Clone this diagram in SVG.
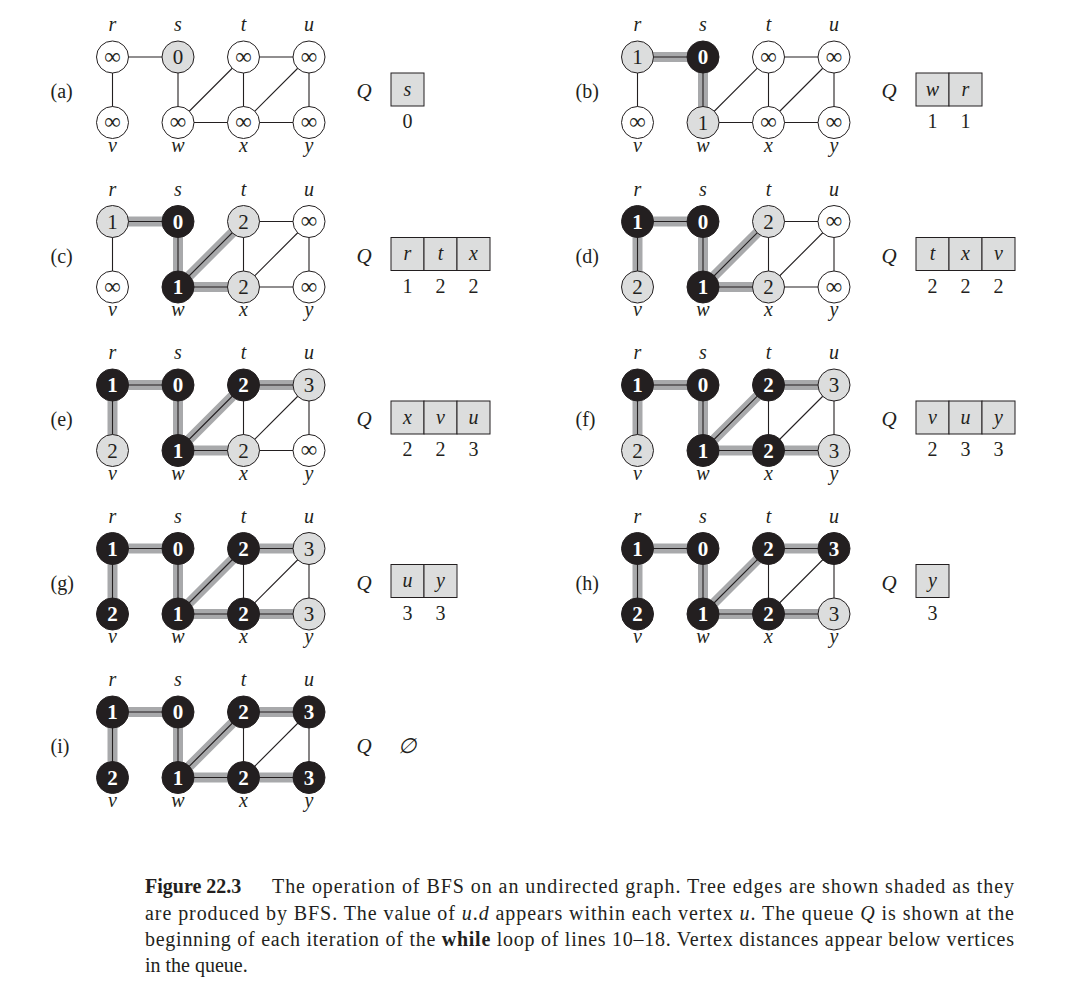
<svg xmlns="http://www.w3.org/2000/svg" width="1086" height="994" viewBox="0 0 1086 994">
<style>
text{font-family:"Liberation Serif","Times New Roman",serif;fill:#231f20}
.e{stroke:#231f20;stroke-width:1.1}
.t{stroke:#a8a9ab;stroke-width:10}
.cw{fill:#fff;stroke:#231f20;stroke-width:1}
.cg{fill:#dcdddd;stroke:#231f20;stroke-width:1}
.cb{fill:#231f20;stroke:#231f20;stroke-width:1}
.lb{font-style:italic;font-size:20px;text-anchor:middle}
.n{font-size:21px;text-anchor:middle}
.nb{font-size:21px;font-weight:bold;text-anchor:middle;fill:#fff}
.inf{font-size:23px;text-anchor:middle}
.pl{font-size:20px}
.q{font-style:italic;font-size:21px}
.qc{fill:#dcdddd;stroke:#231f20;stroke-width:1}
.ql{font-style:italic;font-size:20px;text-anchor:middle}
.qn{font-size:20px;text-anchor:middle}
.cap{font-size:20px}
</style>
<rect width="1086" height="994" fill="#fff"/>

<!-- (a) -->
<g id="panel-a" transform="translate(112.5,57)">
<text class="pl" x="-62" y="41">(a)</text>
<g id="a-edges">
<line class="e" x1="0" y1="0" x2="65.5" y2="0"/><line class="e" x1="0" y1="0" x2="0" y2="65.5"/><line class="e" x1="65.5" y1="0" x2="65.5" y2="65.5"/><line class="e" x1="65.5" y1="65.5" x2="131" y2="0"/><line class="e" x1="65.5" y1="65.5" x2="131" y2="65.5"/><line class="e" x1="131" y1="0" x2="131" y2="65.5"/><line class="e" x1="131" y1="0" x2="196.5" y2="0"/><line class="e" x1="131" y1="65.5" x2="196.5" y2="0"/><line class="e" x1="131" y1="65.5" x2="196.5" y2="65.5"/><line class="e" x1="196.5" y1="0" x2="196.5" y2="65.5"/>
</g>
<g id="a-r"><circle class="cw" cx="0" cy="0" r="16"/><text class="inf" x="0" y="6.5">∞</text><text class="lb" x="0" y="-26">r</text></g>
<g id="a-s"><circle class="cg" cx="65.5" cy="0" r="16"/><text class="n" x="65.5" y="7">0</text><text class="lb" x="65.5" y="-26">s</text></g>
<g id="a-t"><circle class="cw" cx="131" cy="0" r="16"/><text class="inf" x="131" y="6.5">∞</text><text class="lb" x="131" y="-26">t</text></g>
<g id="a-u"><circle class="cw" cx="196.5" cy="0" r="16"/><text class="inf" x="196.5" y="6.5">∞</text><text class="lb" x="196.5" y="-26">u</text></g>
<g id="a-v"><circle class="cw" cx="0" cy="65.5" r="16"/><text class="inf" x="0" y="72">∞</text><text class="lb" x="0" y="94.5">v</text></g>
<g id="a-w"><circle class="cw" cx="65.5" cy="65.5" r="16"/><text class="inf" x="65.5" y="72">∞</text><text class="lb" x="65.5" y="94.5">w</text></g>
<g id="a-x"><circle class="cw" cx="131" cy="65.5" r="16"/><text class="inf" x="131" y="72">∞</text><text class="lb" x="131" y="94.5">x</text></g>
<g id="a-y"><circle class="cw" cx="196.5" cy="65.5" r="16"/><text class="inf" x="196.5" y="72">∞</text><text class="lb" x="196.5" y="94.5">y</text></g>
<g id="a-queue"><text class="q" x="244" y="41">Q</text>
<rect class="qc" x="278.5" y="16" width="33" height="33"/><text class="ql" x="295" y="38.5">s</text>
<text class="qn" x="295" y="71">0</text></g>
</g>

<!-- (b) -->
<g id="panel-b" transform="translate(637.5,57)">
<text class="pl" x="-62" y="41">(b)</text>
<g id="b-edges">
<line class="t" x1="0" y1="0" x2="65.5" y2="0"/><line class="t" x1="65.5" y1="0" x2="65.5" y2="65.5"/>
<line class="e" x1="0" y1="0" x2="65.5" y2="0"/><line class="e" x1="0" y1="0" x2="0" y2="65.5"/><line class="e" x1="65.5" y1="0" x2="65.5" y2="65.5"/><line class="e" x1="65.5" y1="65.5" x2="131" y2="0"/><line class="e" x1="65.5" y1="65.5" x2="131" y2="65.5"/><line class="e" x1="131" y1="0" x2="131" y2="65.5"/><line class="e" x1="131" y1="0" x2="196.5" y2="0"/><line class="e" x1="131" y1="65.5" x2="196.5" y2="0"/><line class="e" x1="131" y1="65.5" x2="196.5" y2="65.5"/><line class="e" x1="196.5" y1="0" x2="196.5" y2="65.5"/>
</g>
<g id="b-r"><circle class="cg" cx="0" cy="0" r="16"/><text class="n" x="0" y="7">1</text><text class="lb" x="0" y="-26">r</text></g>
<g id="b-s"><circle class="cb" cx="65.5" cy="0" r="16"/><text class="nb" x="65.5" y="7">0</text><text class="lb" x="65.5" y="-26">s</text></g>
<g id="b-t"><circle class="cw" cx="131" cy="0" r="16"/><text class="inf" x="131" y="6.5">∞</text><text class="lb" x="131" y="-26">t</text></g>
<g id="b-u"><circle class="cw" cx="196.5" cy="0" r="16"/><text class="inf" x="196.5" y="6.5">∞</text><text class="lb" x="196.5" y="-26">u</text></g>
<g id="b-v"><circle class="cw" cx="0" cy="65.5" r="16"/><text class="inf" x="0" y="72">∞</text><text class="lb" x="0" y="94.5">v</text></g>
<g id="b-w"><circle class="cg" cx="65.5" cy="65.5" r="16"/><text class="n" x="65.5" y="72.5">1</text><text class="lb" x="65.5" y="94.5">w</text></g>
<g id="b-x"><circle class="cw" cx="131" cy="65.5" r="16"/><text class="inf" x="131" y="72">∞</text><text class="lb" x="131" y="94.5">x</text></g>
<g id="b-y"><circle class="cw" cx="196.5" cy="65.5" r="16"/><text class="inf" x="196.5" y="72">∞</text><text class="lb" x="196.5" y="94.5">y</text></g>
<g id="b-queue"><text class="q" x="244" y="41">Q</text>
<rect class="qc" x="278.5" y="16" width="33" height="33"/><text class="ql" x="295" y="38.5">w</text>
<rect class="qc" x="311.5" y="16" width="33" height="33"/><text class="ql" x="328" y="38.5">r</text>
<text class="qn" x="295" y="71">1</text><text class="qn" x="328" y="71">1</text></g>
</g>

<!-- (c) -->
<g id="panel-c" transform="translate(112.5,221.5)">
<text class="pl" x="-62" y="41">(c)</text>
<g id="c-edges">
<line class="t" x1="0" y1="0" x2="65.5" y2="0"/><line class="t" x1="65.5" y1="0" x2="65.5" y2="65.5"/><line class="t" x1="65.5" y1="65.5" x2="131" y2="0"/><line class="t" x1="65.5" y1="65.5" x2="131" y2="65.5"/>
<line class="e" x1="0" y1="0" x2="65.5" y2="0"/><line class="e" x1="0" y1="0" x2="0" y2="65.5"/><line class="e" x1="65.5" y1="0" x2="65.5" y2="65.5"/><line class="e" x1="65.5" y1="65.5" x2="131" y2="0"/><line class="e" x1="65.5" y1="65.5" x2="131" y2="65.5"/><line class="e" x1="131" y1="0" x2="131" y2="65.5"/><line class="e" x1="131" y1="0" x2="196.5" y2="0"/><line class="e" x1="131" y1="65.5" x2="196.5" y2="0"/><line class="e" x1="131" y1="65.5" x2="196.5" y2="65.5"/><line class="e" x1="196.5" y1="0" x2="196.5" y2="65.5"/>
</g>
<g id="c-r"><circle class="cg" cx="0" cy="0" r="16"/><text class="n" x="0" y="7">1</text><text class="lb" x="0" y="-26">r</text></g>
<g id="c-s"><circle class="cb" cx="65.5" cy="0" r="16"/><text class="nb" x="65.5" y="7">0</text><text class="lb" x="65.5" y="-26">s</text></g>
<g id="c-t"><circle class="cg" cx="131" cy="0" r="16"/><text class="n" x="131" y="7">2</text><text class="lb" x="131" y="-26">t</text></g>
<g id="c-u"><circle class="cw" cx="196.5" cy="0" r="16"/><text class="inf" x="196.5" y="6.5">∞</text><text class="lb" x="196.5" y="-26">u</text></g>
<g id="c-v"><circle class="cw" cx="0" cy="65.5" r="16"/><text class="inf" x="0" y="72">∞</text><text class="lb" x="0" y="94.5">v</text></g>
<g id="c-w"><circle class="cb" cx="65.5" cy="65.5" r="16"/><text class="nb" x="65.5" y="72.5">1</text><text class="lb" x="65.5" y="94.5">w</text></g>
<g id="c-x"><circle class="cg" cx="131" cy="65.5" r="16"/><text class="n" x="131" y="72.5">2</text><text class="lb" x="131" y="94.5">x</text></g>
<g id="c-y"><circle class="cw" cx="196.5" cy="65.5" r="16"/><text class="inf" x="196.5" y="72">∞</text><text class="lb" x="196.5" y="94.5">y</text></g>
<g id="c-queue"><text class="q" x="244" y="41">Q</text>
<rect class="qc" x="278.5" y="16" width="33" height="33"/><text class="ql" x="295" y="38.5">r</text>
<rect class="qc" x="311.5" y="16" width="33" height="33"/><text class="ql" x="328" y="38.5">t</text>
<rect class="qc" x="344.5" y="16" width="33" height="33"/><text class="ql" x="361" y="38.5">x</text>
<text class="qn" x="295" y="71">1</text><text class="qn" x="328" y="71">2</text><text class="qn" x="361" y="71">2</text></g>
</g>

<!-- (d) -->
<g id="panel-d" transform="translate(637.5,221.5)">
<text class="pl" x="-62" y="41">(d)</text>
<g id="d-edges">
<line class="t" x1="0" y1="0" x2="65.5" y2="0"/><line class="t" x1="0" y1="0" x2="0" y2="65.5"/><line class="t" x1="65.5" y1="0" x2="65.5" y2="65.5"/><line class="t" x1="65.5" y1="65.5" x2="131" y2="0"/><line class="t" x1="65.5" y1="65.5" x2="131" y2="65.5"/>
<line class="e" x1="0" y1="0" x2="65.5" y2="0"/><line class="e" x1="0" y1="0" x2="0" y2="65.5"/><line class="e" x1="65.5" y1="0" x2="65.5" y2="65.5"/><line class="e" x1="65.5" y1="65.5" x2="131" y2="0"/><line class="e" x1="65.5" y1="65.5" x2="131" y2="65.5"/><line class="e" x1="131" y1="0" x2="131" y2="65.5"/><line class="e" x1="131" y1="0" x2="196.5" y2="0"/><line class="e" x1="131" y1="65.5" x2="196.5" y2="0"/><line class="e" x1="131" y1="65.5" x2="196.5" y2="65.5"/><line class="e" x1="196.5" y1="0" x2="196.5" y2="65.5"/>
</g>
<g id="d-r"><circle class="cb" cx="0" cy="0" r="16"/><text class="nb" x="0" y="7">1</text><text class="lb" x="0" y="-26">r</text></g>
<g id="d-s"><circle class="cb" cx="65.5" cy="0" r="16"/><text class="nb" x="65.5" y="7">0</text><text class="lb" x="65.5" y="-26">s</text></g>
<g id="d-t"><circle class="cg" cx="131" cy="0" r="16"/><text class="n" x="131" y="7">2</text><text class="lb" x="131" y="-26">t</text></g>
<g id="d-u"><circle class="cw" cx="196.5" cy="0" r="16"/><text class="inf" x="196.5" y="6.5">∞</text><text class="lb" x="196.5" y="-26">u</text></g>
<g id="d-v"><circle class="cg" cx="0" cy="65.5" r="16"/><text class="n" x="0" y="72.5">2</text><text class="lb" x="0" y="94.5">v</text></g>
<g id="d-w"><circle class="cb" cx="65.5" cy="65.5" r="16"/><text class="nb" x="65.5" y="72.5">1</text><text class="lb" x="65.5" y="94.5">w</text></g>
<g id="d-x"><circle class="cg" cx="131" cy="65.5" r="16"/><text class="n" x="131" y="72.5">2</text><text class="lb" x="131" y="94.5">x</text></g>
<g id="d-y"><circle class="cw" cx="196.5" cy="65.5" r="16"/><text class="inf" x="196.5" y="72">∞</text><text class="lb" x="196.5" y="94.5">y</text></g>
<g id="d-queue"><text class="q" x="244" y="41">Q</text>
<rect class="qc" x="278.5" y="16" width="33" height="33"/><text class="ql" x="295" y="38.5">t</text>
<rect class="qc" x="311.5" y="16" width="33" height="33"/><text class="ql" x="328" y="38.5">x</text>
<rect class="qc" x="344.5" y="16" width="33" height="33"/><text class="ql" x="361" y="38.5">v</text>
<text class="qn" x="295" y="71">2</text><text class="qn" x="328" y="71">2</text><text class="qn" x="361" y="71">2</text></g>
</g>

<!-- (e) -->
<g id="panel-e" transform="translate(112.5,385)">
<text class="pl" x="-62" y="41">(e)</text>
<g id="e-edges">
<line class="t" x1="0" y1="0" x2="65.5" y2="0"/><line class="t" x1="0" y1="0" x2="0" y2="65.5"/><line class="t" x1="65.5" y1="0" x2="65.5" y2="65.5"/><line class="t" x1="65.5" y1="65.5" x2="131" y2="0"/><line class="t" x1="65.5" y1="65.5" x2="131" y2="65.5"/><line class="t" x1="131" y1="0" x2="196.5" y2="0"/>
<line class="e" x1="0" y1="0" x2="65.5" y2="0"/><line class="e" x1="0" y1="0" x2="0" y2="65.5"/><line class="e" x1="65.5" y1="0" x2="65.5" y2="65.5"/><line class="e" x1="65.5" y1="65.5" x2="131" y2="0"/><line class="e" x1="65.5" y1="65.5" x2="131" y2="65.5"/><line class="e" x1="131" y1="0" x2="131" y2="65.5"/><line class="e" x1="131" y1="0" x2="196.5" y2="0"/><line class="e" x1="131" y1="65.5" x2="196.5" y2="0"/><line class="e" x1="131" y1="65.5" x2="196.5" y2="65.5"/><line class="e" x1="196.5" y1="0" x2="196.5" y2="65.5"/>
</g>
<g id="e-r"><circle class="cb" cx="0" cy="0" r="16"/><text class="nb" x="0" y="7">1</text><text class="lb" x="0" y="-26">r</text></g>
<g id="e-s"><circle class="cb" cx="65.5" cy="0" r="16"/><text class="nb" x="65.5" y="7">0</text><text class="lb" x="65.5" y="-26">s</text></g>
<g id="e-t"><circle class="cb" cx="131" cy="0" r="16"/><text class="nb" x="131" y="7">2</text><text class="lb" x="131" y="-26">t</text></g>
<g id="e-u"><circle class="cg" cx="196.5" cy="0" r="16"/><text class="n" x="196.5" y="7">3</text><text class="lb" x="196.5" y="-26">u</text></g>
<g id="e-v"><circle class="cg" cx="0" cy="65.5" r="16"/><text class="n" x="0" y="72.5">2</text><text class="lb" x="0" y="94.5">v</text></g>
<g id="e-w"><circle class="cb" cx="65.5" cy="65.5" r="16"/><text class="nb" x="65.5" y="72.5">1</text><text class="lb" x="65.5" y="94.5">w</text></g>
<g id="e-x"><circle class="cg" cx="131" cy="65.5" r="16"/><text class="n" x="131" y="72.5">2</text><text class="lb" x="131" y="94.5">x</text></g>
<g id="e-y"><circle class="cw" cx="196.5" cy="65.5" r="16"/><text class="inf" x="196.5" y="72">∞</text><text class="lb" x="196.5" y="94.5">y</text></g>
<g id="e-queue"><text class="q" x="244" y="41">Q</text>
<rect class="qc" x="278.5" y="16" width="33" height="33"/><text class="ql" x="295" y="38.5">x</text>
<rect class="qc" x="311.5" y="16" width="33" height="33"/><text class="ql" x="328" y="38.5">v</text>
<rect class="qc" x="344.5" y="16" width="33" height="33"/><text class="ql" x="361" y="38.5">u</text>
<text class="qn" x="295" y="71">2</text><text class="qn" x="328" y="71">2</text><text class="qn" x="361" y="71">3</text></g>
</g>

<!-- (f) -->
<g id="panel-f" transform="translate(637.5,385)">
<text class="pl" x="-62" y="41">(f)</text>
<g id="f-edges">
<line class="t" x1="0" y1="0" x2="65.5" y2="0"/><line class="t" x1="0" y1="0" x2="0" y2="65.5"/><line class="t" x1="65.5" y1="0" x2="65.5" y2="65.5"/><line class="t" x1="65.5" y1="65.5" x2="131" y2="0"/><line class="t" x1="65.5" y1="65.5" x2="131" y2="65.5"/><line class="t" x1="131" y1="0" x2="196.5" y2="0"/><line class="t" x1="131" y1="65.5" x2="196.5" y2="65.5"/>
<line class="e" x1="0" y1="0" x2="65.5" y2="0"/><line class="e" x1="0" y1="0" x2="0" y2="65.5"/><line class="e" x1="65.5" y1="0" x2="65.5" y2="65.5"/><line class="e" x1="65.5" y1="65.5" x2="131" y2="0"/><line class="e" x1="65.5" y1="65.5" x2="131" y2="65.5"/><line class="e" x1="131" y1="0" x2="131" y2="65.5"/><line class="e" x1="131" y1="0" x2="196.5" y2="0"/><line class="e" x1="131" y1="65.5" x2="196.5" y2="0"/><line class="e" x1="131" y1="65.5" x2="196.5" y2="65.5"/><line class="e" x1="196.5" y1="0" x2="196.5" y2="65.5"/>
</g>
<g id="f-r"><circle class="cb" cx="0" cy="0" r="16"/><text class="nb" x="0" y="7">1</text><text class="lb" x="0" y="-26">r</text></g>
<g id="f-s"><circle class="cb" cx="65.5" cy="0" r="16"/><text class="nb" x="65.5" y="7">0</text><text class="lb" x="65.5" y="-26">s</text></g>
<g id="f-t"><circle class="cb" cx="131" cy="0" r="16"/><text class="nb" x="131" y="7">2</text><text class="lb" x="131" y="-26">t</text></g>
<g id="f-u"><circle class="cg" cx="196.5" cy="0" r="16"/><text class="n" x="196.5" y="7">3</text><text class="lb" x="196.5" y="-26">u</text></g>
<g id="f-v"><circle class="cg" cx="0" cy="65.5" r="16"/><text class="n" x="0" y="72.5">2</text><text class="lb" x="0" y="94.5">v</text></g>
<g id="f-w"><circle class="cb" cx="65.5" cy="65.5" r="16"/><text class="nb" x="65.5" y="72.5">1</text><text class="lb" x="65.5" y="94.5">w</text></g>
<g id="f-x"><circle class="cb" cx="131" cy="65.5" r="16"/><text class="nb" x="131" y="72.5">2</text><text class="lb" x="131" y="94.5">x</text></g>
<g id="f-y"><circle class="cg" cx="196.5" cy="65.5" r="16"/><text class="n" x="196.5" y="72.5">3</text><text class="lb" x="196.5" y="94.5">y</text></g>
<g id="f-queue"><text class="q" x="244" y="41">Q</text>
<rect class="qc" x="278.5" y="16" width="33" height="33"/><text class="ql" x="295" y="38.5">v</text>
<rect class="qc" x="311.5" y="16" width="33" height="33"/><text class="ql" x="328" y="38.5">u</text>
<rect class="qc" x="344.5" y="16" width="33" height="33"/><text class="ql" x="361" y="38.5">y</text>
<text class="qn" x="295" y="71">2</text><text class="qn" x="328" y="71">3</text><text class="qn" x="361" y="71">3</text></g>
</g>

<!-- (g) -->
<g id="panel-g" transform="translate(112.5,548.5)">
<text class="pl" x="-62" y="41">(g)</text>
<g id="g-edges">
<line class="t" x1="0" y1="0" x2="65.5" y2="0"/><line class="t" x1="0" y1="0" x2="0" y2="65.5"/><line class="t" x1="65.5" y1="0" x2="65.5" y2="65.5"/><line class="t" x1="65.5" y1="65.5" x2="131" y2="0"/><line class="t" x1="65.5" y1="65.5" x2="131" y2="65.5"/><line class="t" x1="131" y1="0" x2="196.5" y2="0"/><line class="t" x1="131" y1="65.5" x2="196.5" y2="65.5"/>
<line class="e" x1="0" y1="0" x2="65.5" y2="0"/><line class="e" x1="0" y1="0" x2="0" y2="65.5"/><line class="e" x1="65.5" y1="0" x2="65.5" y2="65.5"/><line class="e" x1="65.5" y1="65.5" x2="131" y2="0"/><line class="e" x1="65.5" y1="65.5" x2="131" y2="65.5"/><line class="e" x1="131" y1="0" x2="131" y2="65.5"/><line class="e" x1="131" y1="0" x2="196.5" y2="0"/><line class="e" x1="131" y1="65.5" x2="196.5" y2="0"/><line class="e" x1="131" y1="65.5" x2="196.5" y2="65.5"/><line class="e" x1="196.5" y1="0" x2="196.5" y2="65.5"/>
</g>
<g id="g-r"><circle class="cb" cx="0" cy="0" r="16"/><text class="nb" x="0" y="7">1</text><text class="lb" x="0" y="-26">r</text></g>
<g id="g-s"><circle class="cb" cx="65.5" cy="0" r="16"/><text class="nb" x="65.5" y="7">0</text><text class="lb" x="65.5" y="-26">s</text></g>
<g id="g-t"><circle class="cb" cx="131" cy="0" r="16"/><text class="nb" x="131" y="7">2</text><text class="lb" x="131" y="-26">t</text></g>
<g id="g-u"><circle class="cg" cx="196.5" cy="0" r="16"/><text class="n" x="196.5" y="7">3</text><text class="lb" x="196.5" y="-26">u</text></g>
<g id="g-v"><circle class="cb" cx="0" cy="65.5" r="16"/><text class="nb" x="0" y="72.5">2</text><text class="lb" x="0" y="94.5">v</text></g>
<g id="g-w"><circle class="cb" cx="65.5" cy="65.5" r="16"/><text class="nb" x="65.5" y="72.5">1</text><text class="lb" x="65.5" y="94.5">w</text></g>
<g id="g-x"><circle class="cb" cx="131" cy="65.5" r="16"/><text class="nb" x="131" y="72.5">2</text><text class="lb" x="131" y="94.5">x</text></g>
<g id="g-y"><circle class="cg" cx="196.5" cy="65.5" r="16"/><text class="n" x="196.5" y="72.5">3</text><text class="lb" x="196.5" y="94.5">y</text></g>
<g id="g-queue"><text class="q" x="244" y="41">Q</text>
<rect class="qc" x="278.5" y="16" width="33" height="33"/><text class="ql" x="295" y="38.5">u</text>
<rect class="qc" x="311.5" y="16" width="33" height="33"/><text class="ql" x="328" y="38.5">y</text>
<text class="qn" x="295" y="71">3</text><text class="qn" x="328" y="71">3</text></g>
</g>

<!-- (h) -->
<g id="panel-h" transform="translate(637.5,548.5)">
<text class="pl" x="-62" y="41">(h)</text>
<g id="h-edges">
<line class="t" x1="0" y1="0" x2="65.5" y2="0"/><line class="t" x1="0" y1="0" x2="0" y2="65.5"/><line class="t" x1="65.5" y1="0" x2="65.5" y2="65.5"/><line class="t" x1="65.5" y1="65.5" x2="131" y2="0"/><line class="t" x1="65.5" y1="65.5" x2="131" y2="65.5"/><line class="t" x1="131" y1="0" x2="196.5" y2="0"/><line class="t" x1="131" y1="65.5" x2="196.5" y2="65.5"/>
<line class="e" x1="0" y1="0" x2="65.5" y2="0"/><line class="e" x1="0" y1="0" x2="0" y2="65.5"/><line class="e" x1="65.5" y1="0" x2="65.5" y2="65.5"/><line class="e" x1="65.5" y1="65.5" x2="131" y2="0"/><line class="e" x1="65.5" y1="65.5" x2="131" y2="65.5"/><line class="e" x1="131" y1="0" x2="131" y2="65.5"/><line class="e" x1="131" y1="0" x2="196.5" y2="0"/><line class="e" x1="131" y1="65.5" x2="196.5" y2="0"/><line class="e" x1="131" y1="65.5" x2="196.5" y2="65.5"/><line class="e" x1="196.5" y1="0" x2="196.5" y2="65.5"/>
</g>
<g id="h-r"><circle class="cb" cx="0" cy="0" r="16"/><text class="nb" x="0" y="7">1</text><text class="lb" x="0" y="-26">r</text></g>
<g id="h-s"><circle class="cb" cx="65.5" cy="0" r="16"/><text class="nb" x="65.5" y="7">0</text><text class="lb" x="65.5" y="-26">s</text></g>
<g id="h-t"><circle class="cb" cx="131" cy="0" r="16"/><text class="nb" x="131" y="7">2</text><text class="lb" x="131" y="-26">t</text></g>
<g id="h-u"><circle class="cb" cx="196.5" cy="0" r="16"/><text class="nb" x="196.5" y="7">3</text><text class="lb" x="196.5" y="-26">u</text></g>
<g id="h-v"><circle class="cb" cx="0" cy="65.5" r="16"/><text class="nb" x="0" y="72.5">2</text><text class="lb" x="0" y="94.5">v</text></g>
<g id="h-w"><circle class="cb" cx="65.5" cy="65.5" r="16"/><text class="nb" x="65.5" y="72.5">1</text><text class="lb" x="65.5" y="94.5">w</text></g>
<g id="h-x"><circle class="cb" cx="131" cy="65.5" r="16"/><text class="nb" x="131" y="72.5">2</text><text class="lb" x="131" y="94.5">x</text></g>
<g id="h-y"><circle class="cg" cx="196.5" cy="65.5" r="16"/><text class="n" x="196.5" y="72.5">3</text><text class="lb" x="196.5" y="94.5">y</text></g>
<g id="h-queue"><text class="q" x="244" y="41">Q</text>
<rect class="qc" x="278.5" y="16" width="33" height="33"/><text class="ql" x="295" y="38.5">y</text>
<text class="qn" x="295" y="71">3</text></g>
</g>

<!-- (i) -->
<g id="panel-i" transform="translate(112.5,712)">
<text class="pl" x="-62" y="41">(i)</text>
<g id="i-edges">
<line class="t" x1="0" y1="0" x2="65.5" y2="0"/><line class="t" x1="0" y1="0" x2="0" y2="65.5"/><line class="t" x1="65.5" y1="0" x2="65.5" y2="65.5"/><line class="t" x1="65.5" y1="65.5" x2="131" y2="0"/><line class="t" x1="65.5" y1="65.5" x2="131" y2="65.5"/><line class="t" x1="131" y1="0" x2="196.5" y2="0"/><line class="t" x1="131" y1="65.5" x2="196.5" y2="65.5"/>
<line class="e" x1="0" y1="0" x2="65.5" y2="0"/><line class="e" x1="0" y1="0" x2="0" y2="65.5"/><line class="e" x1="65.5" y1="0" x2="65.5" y2="65.5"/><line class="e" x1="65.5" y1="65.5" x2="131" y2="0"/><line class="e" x1="65.5" y1="65.5" x2="131" y2="65.5"/><line class="e" x1="131" y1="0" x2="131" y2="65.5"/><line class="e" x1="131" y1="0" x2="196.5" y2="0"/><line class="e" x1="131" y1="65.5" x2="196.5" y2="0"/><line class="e" x1="131" y1="65.5" x2="196.5" y2="65.5"/><line class="e" x1="196.5" y1="0" x2="196.5" y2="65.5"/>
</g>
<g id="i-r"><circle class="cb" cx="0" cy="0" r="16"/><text class="nb" x="0" y="7">1</text><text class="lb" x="0" y="-26">r</text></g>
<g id="i-s"><circle class="cb" cx="65.5" cy="0" r="16"/><text class="nb" x="65.5" y="7">0</text><text class="lb" x="65.5" y="-26">s</text></g>
<g id="i-t"><circle class="cb" cx="131" cy="0" r="16"/><text class="nb" x="131" y="7">2</text><text class="lb" x="131" y="-26">t</text></g>
<g id="i-u"><circle class="cb" cx="196.5" cy="0" r="16"/><text class="nb" x="196.5" y="7">3</text><text class="lb" x="196.5" y="-26">u</text></g>
<g id="i-v"><circle class="cb" cx="0" cy="65.5" r="16"/><text class="nb" x="0" y="72.5">2</text><text class="lb" x="0" y="94.5">v</text></g>
<g id="i-w"><circle class="cb" cx="65.5" cy="65.5" r="16"/><text class="nb" x="65.5" y="72.5">1</text><text class="lb" x="65.5" y="94.5">w</text></g>
<g id="i-x"><circle class="cb" cx="131" cy="65.5" r="16"/><text class="nb" x="131" y="72.5">2</text><text class="lb" x="131" y="94.5">x</text></g>
<g id="i-y"><circle class="cb" cx="196.5" cy="65.5" r="16"/><text class="nb" x="196.5" y="72.5">3</text><text class="lb" x="196.5" y="94.5">y</text></g>
<g id="i-queue"><text class="q" x="244" y="41">Q</text>
<text x="285" y="41" style="font-family:'DejaVu Serif','Liberation Serif',serif;font-size:21px;font-style:italic">∅</text></g>
</g>

<g id="caption">
<text class="cap" x="145" y="893" font-weight="bold">Figure 22.3</text>
<text class="cap" x="272" y="893" textLength="742" lengthAdjust="spacing">The operation of BFS on an undirected graph. Tree edges are shown shaded as they</text>
<text class="cap" x="145" y="919.5" textLength="869" lengthAdjust="spacing">are produced by BFS. The value of <tspan font-style="italic">u</tspan>.<tspan font-style="italic">d</tspan> appears within each vertex <tspan font-style="italic">u</tspan>. The queue <tspan font-style="italic">Q</tspan> is shown at the</text>
<text class="cap" x="145" y="946" textLength="869" lengthAdjust="spacing">beginning of each iteration of the <tspan font-weight="bold">while</tspan> loop of lines 10–18. Vertex distances appear below vertices</text>
<text class="cap" x="145" y="972">in the queue.</text>
</g>
</svg>
